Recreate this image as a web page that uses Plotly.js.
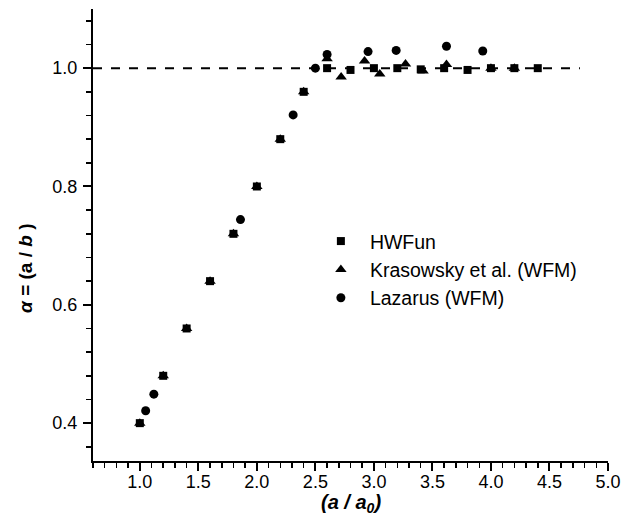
<!DOCTYPE html>
<html>
<head>
<meta charset="utf-8">
<script src="https://cdn.plot.ly/plotly-3.0.1.min.js"></script>
<style>html,body{margin:0;padding:0;background:#fff;}#chart{width:622px;height:524px;}</style>
</head>
<body>
<div id="chart"></div>
<script>
// HWFun
const hwX = [1.0, 1.2, 1.4, 1.6, 1.8, 2.0, 2.2, 2.4, 2.6, 2.8, 3.0, 3.2, 3.4, 3.6, 3.8, 4.0, 4.2, 4.4];
const hwY = [0.40, 0.48, 0.56, 0.64, 0.72, 0.80, 0.88, 0.96, 1.0, 0.997, 1.0, 1.0, 0.998, 1.0, 0.997, 1.0, 1.0, 1.0];
// Krasowsky et al. (WFM)
const krX = [1.0, 1.2, 1.4, 1.6, 1.8, 2.0, 2.2, 2.4, 2.6, 2.72, 2.92, 3.05, 3.27, 3.42, 3.62, 4.0, 4.2];
const krY = [0.40, 0.48, 0.56, 0.64, 0.72, 0.80, 0.88, 0.96, 1.016, 0.985, 1.012, 0.99, 1.007, 0.995, 1.006, 1.0, 1.0];
// Lazarus (WFM)
const lzX = [1.05, 1.12, 1.86, 2.31, 2.5, 2.6, 2.95, 3.19, 3.62, 3.93];
const lzY = [0.421, 0.449, 0.744, 0.921, 1.0, 1.023, 1.028, 1.03, 1.037, 1.029];
// reference line alpha = 1
const refX = [0.6, 4.76];
const refY = [1.0, 1.0];

const names = ["HWFun", "Krasowsky et al. (WFM)", "Lazarus (WFM)"];
const xTitle = "<b><i>(a / a<sub>0</sub>)</i></b>";
const yTitle = "<b><i>α</i> = (a / <i>b</i> )</b>";

const FONT = "Liberation Sans, Arial, sans-serif";

const traces = [
  {x: refX, y: refY, mode: "lines", showlegend: false, hoverinfo: "skip",
   line: {color: "#000", width: 2, dash: "9px,9px"}},
  {x: krX, y: krY, mode: "markers", name: names[1], legendrank: 2,
   marker: {symbol: "triangle-up", size: 10, color: "#000"}},
  {x: hwX, y: hwY, mode: "markers", name: names[0], legendrank: 1,
   marker: {symbol: "square", size: 8, color: "#000"}},
  {x: lzX, y: lzY, mode: "markers", name: names[2], legendrank: 3,
   marker: {symbol: "circle", size: 9, color: "#000"}}
];

const axisCommon = {
  showgrid: false, zeroline: false, showline: true, linecolor: "#000", linewidth: 2,
  ticks: "outside", ticklen: 8, tickwidth: 2, tickcolor: "#000",
  tickfont: {family: FONT, size: 18, color: "#000"}, tickformat: ".1f", mirror: false
};

const layout = {
  width: 622, height: 524,
  margin: {l: 93, r: 14, t: 9, b: 63},
  paper_bgcolor: "#fff", plot_bgcolor: "#fff",
  font: {family: FONT, color: "#000"},
  xaxis: Object.assign({}, axisCommon, {
    range: [0.6, 5.0], tick0: 0, dtick: 0.5,
    minor: {dtick: 0.1, tick0: 0, ticks: "outside", ticklen: 5, tickwidth: 1.5, tickcolor: "#000", showgrid: false},
    ticklabelstandoff: -5
  }),
  yaxis: Object.assign({}, axisCommon, {
    range: [0.336, 1.10], tick0: 0, dtick: 0.2,
    minor: {dtick: 0.04, tick0: 0, ticks: "outside", ticklen: 5, tickwidth: 1.5, tickcolor: "#000", showgrid: false},
    ticklabelstandoff: 2
  }),
  legend: {x: 0.425, y: 0.529, xanchor: "left", yanchor: "top", bgcolor: "rgba(0,0,0,0)",
    itemwidth: 48,
    font: {family: FONT, size: 19.5, color: "#000"}, traceorder: "normal"},
  annotations: [
    {text: xTitle, xref: "paper", yref: "paper", x: 0.5, y: -0.094, xanchor: "center", yanchor: "middle",
     showarrow: false, font: {family: FONT, size: 20, color: "#000"}},
    {text: yTitle, xref: "paper", yref: "paper", x: -0.13, y: 0.425, xanchor: "center", yanchor: "middle",
     textangle: -90, showarrow: false, font: {family: FONT, size: 19, color: "#000"}}
  ],
  showlegend: true
};

Plotly.newPlot("chart", traces, layout, {staticPlot: true, displayModeBar: false});
</script>
</body>
</html>
